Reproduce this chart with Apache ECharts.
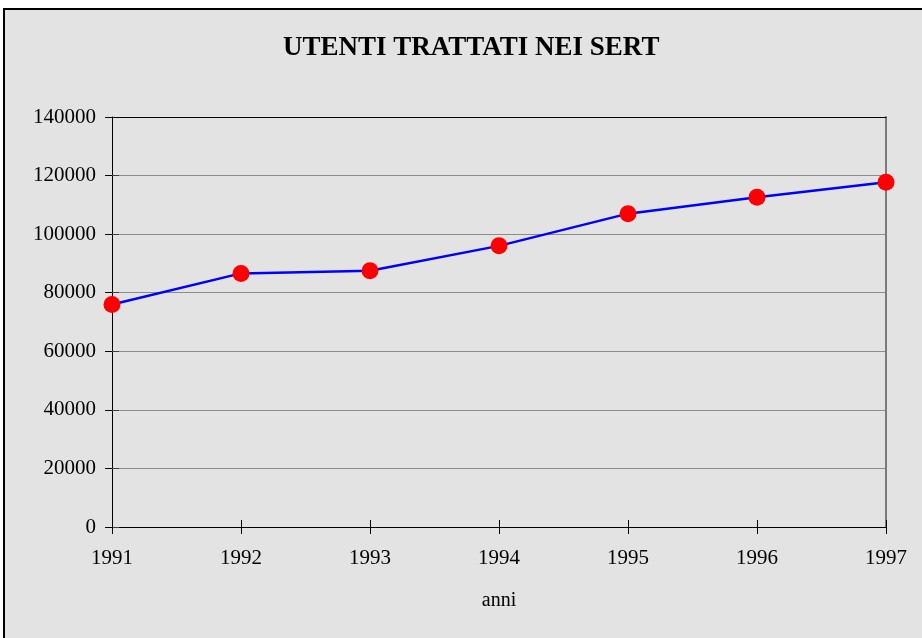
<!DOCTYPE html>
<html>
<head>
<meta charset="utf-8">
<script src="https://cdn.jsdelivr.net/npm/echarts@6/dist/echarts.min.js"></script>
<style>
  html, body { margin: 0; padding: 0; background: #ffffff; }
  #chart { width: 922px; height: 638px; }
</style>
</head>
<body>
<div id="chart"></div>
<script>
// Utenti trattati nei SerT, 1991-1997
const titleText = 'UTENTI TRATTATI NEI SERT';
const xAxisName = 'anni';
const years = ['1991', '1992', '1993', '1994', '1995', '1996', '1997'];
const utenti = [76000, 86600, 87500, 96000, 107000, 112600, 117700];
const yMin = 0;
const yMax = 140000;
const yStep = 20000;

const serif = '"Liberation Serif", "DejaVu Serif", serif';
const plotRect = { left: 112, right: 36, top: 117, bottom: 111 };

const chart = echarts.init(document.getElementById('chart'), null, { renderer: 'canvas' });

const option = {
  backgroundColor: '#ffffff',
  animation: false,
  graphic: [
    {
      type: 'rect',
      z: -10,
      shape: { x: 4, y: 9, width: 940, height: 650 },
      style: { fill: '#e3e3e3', stroke: '#000000', lineWidth: 2 }
    },
    {
      type: 'text',
      left: 283,
      top: 35,
      style: {
        text: titleText,
        font: 'bold 27px ' + serif,
        fill: '#000000'
      }
    }
  ],
  // grid 0 holds the data; grid 1 overlays it to draw the inner half of each tick
  grid: [
    Object.assign({ show: false }, plotRect),
    Object.assign({ show: false }, plotRect)
  ],
  xAxis: [
    {
      gridIndex: 0,
      type: 'category',
      data: years,
      boundaryGap: false,
      position: 'bottom',
      name: xAxisName,
      nameLocation: 'middle',
      nameGap: 64,
      nameTextStyle: { fontFamily: serif, fontSize: 20, color: '#000000' },
      axisLine: { onZero: false, lineStyle: { color: '#000000', width: 1 } },
      axisTick: { show: true, inside: false, length: 7, lineStyle: { color: '#000000' } },
      axisLabel: { fontFamily: serif, fontSize: 21, color: '#000000', margin: 21 },
      splitLine: { show: false }
    },
    {
      gridIndex: 0,
      type: 'category',
      data: years,
      boundaryGap: false,
      position: 'top',
      axisLine: { show: true, onZero: false, lineStyle: { color: '#000000', width: 1 } },
      axisTick: { show: false },
      axisLabel: { show: false },
      splitLine: { show: false },
      z: 10
    },
    {
      gridIndex: 1,
      type: 'category',
      data: years,
      boundaryGap: false,
      position: 'bottom',
      axisLine: { show: false, onZero: false },
      axisTick: { show: true, inside: true, length: 7, lineStyle: { color: '#000000' } },
      axisLabel: { show: false },
      splitLine: { show: false }
    }
  ],
  yAxis: [
    {
      gridIndex: 0,
      type: 'value',
      min: yMin, max: yMax, interval: yStep,
      position: 'left',
      axisLine: { show: true, onZero: false, lineStyle: { color: '#000000', width: 1 } },
      axisTick: { show: true, inside: false, length: 7, lineStyle: { color: '#000000' } },
      axisLabel: {
        fontFamily: serif, fontSize: 21, color: '#000000', margin: 16,
        formatter: (v) => String(v)
      },
      splitLine: {
        show: true, showMaxLine: false, showMinLine: false,
        lineStyle: { color: '#8c8c8c', width: 1 }
      }
    },
    {
      gridIndex: 0,
      type: 'value',
      min: yMin, max: yMax, interval: yStep,
      position: 'right',
      axisLine: { show: true, onZero: false, lineStyle: { color: '#7a7a7a', width: 2 } },
      axisTick: { show: false },
      axisLabel: { show: false },
      splitLine: { show: false }
    },
    {
      gridIndex: 1,
      type: 'value',
      min: yMin, max: yMax, interval: yStep,
      position: 'left',
      axisLine: { show: false, onZero: false },
      axisTick: { show: true, inside: true, length: 7, lineStyle: { color: '#404040' } },
      axisLabel: { show: false },
      splitLine: { show: false }
    }
  ],
  series: [
    {
      type: 'line',
      data: utenti,
      xAxisIndex: 0,
      yAxisIndex: 0,
      symbol: 'circle',
      symbolSize: 17,
      lineStyle: { color: '#0000ff', width: 2.5 },
      itemStyle: { color: '#ff0000', borderWidth: 0 },
      z: 5
    }
  ]
};

chart.setOption(option);
</script>
</body>
</html>
